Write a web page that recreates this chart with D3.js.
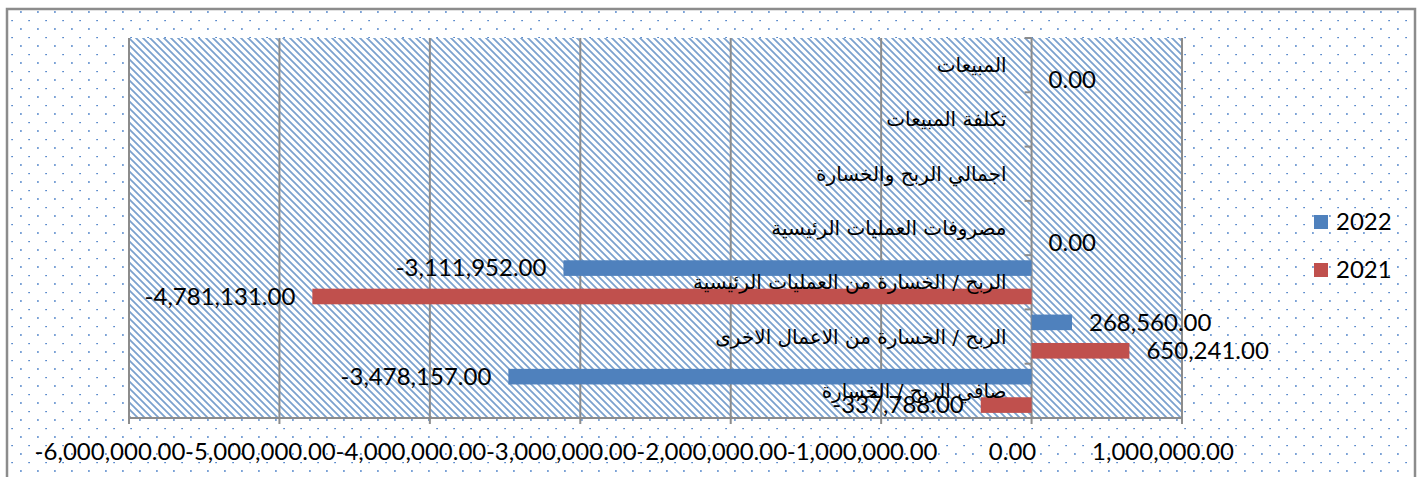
<!DOCTYPE html>
<html>
<head>
<meta charset="utf-8">
<script src="https://cdn.jsdelivr.net/npm/d3@7"></script>
<style>
  html, body { margin: 0; padding: 0; background: #fff; }
  svg { display: block; }
</style>
</head>
<body>
<svg id="chart" width="1423" height="477"></svg>
<script>
const categories = [
  "المبيعات",
  "تكلفة المبيعات",
  "اجمالي الربح والخسارة",
  "مصروفات العمليات الرئيسية",
  "الربح / الخسارة من العمليات الرئيسية",
  "الربح / الخسارة من الاعمال الاخرى",
  "صافي الربح / الخسارة"
];
const years = ["2022", "2021"];
const values2022 = [null, null, null, null, -3111952, 268560, -3478157];
const values2021 = [0, null, null, 0, -4781131, 650241, -337788];
const xDomain = [-6000000, 1000000];

const colors = { "2022": "#4F81BD", "2021": "#C0504D" };
const series = { "2022": values2022, "2021": values2021 };

const svg = d3.select("#chart");
const plot = { left: 129, right: 1182, top: 38, bottom: 418 };

const locale = d3.formatLocale({ decimal: ".", thousands: ",", grouping: [3], currency: ["", ""], minus: "-" });
const fmt = locale.format(",.2f");

const defs = svg.append("defs");
const dots = defs.append("pattern")
  .attr("id", "dots")
  .attr("patternUnits", "userSpaceOnUse")
  .attr("width", 17).attr("height", 17);
dots.append("rect").attr("width", 17).attr("height", 17).attr("fill", "#fff");
dots.append("rect").attr("x", 3).attr("y", 11.2).attr("width", 1.8).attr("height", 1.6).attr("fill", "#5b8bcc");
dots.append("rect").attr("x", 11.2).attr("y", 3).attr("width", 1.8).attr("height", 1.2).attr("fill", "#5b8bcc");

const hatch = defs.append("pattern")
  .attr("id", "hatch")
  .attr("patternUnits", "userSpaceOnUse")
  .attr("width", 7).attr("height", 7);
hatch.append("rect").attr("width", 7).attr("height", 7).attr("fill", "#fff");
hatch.append("path")
  .attr("d", "M0,0L7,7M-1,6L1,8M6,-1L8,1")
  .attr("stroke", "#4F81BD")
  .attr("stroke-opacity", 0.75)
  .attr("stroke-width", 1.8);

// chart area
svg.append("rect")
  .attr("x", 7).attr("y", 9)
  .attr("width", 1408).attr("height", 490)
  .attr("fill", "url(#dots)")
  .attr("stroke", "#8c8c8c")
  .attr("stroke-width", 2.5);

const x = d3.scaleLinear().domain(xDomain).range([plot.left, plot.right]);
const y = d3.scaleBand().domain(categories).range([plot.top, plot.bottom]);
const yInner = d3.scaleBand().domain(years).range([0, y.bandwidth()]).paddingInner(0.45).paddingOuter(0.18);

// plot area
svg.append("rect")
  .attr("x", plot.left).attr("y", plot.top)
  .attr("width", plot.right - plot.left).attr("height", plot.bottom - plot.top)
  .attr("fill", "url(#hatch)");

// gridlines
const ticks = x.ticks(7);
svg.append("g").selectAll("line")
  .data(ticks)
  .join("line")
  .attr("x1", d => x(d)).attr("x2", d => x(d))
  .attr("y1", plot.top).attr("y2", plot.bottom + 6)
  .attr("stroke", "#8c8c8c")
  .attr("stroke-width", 2);

// bottom axis line
svg.append("line")
  .attr("x1", plot.left).attr("x2", plot.right)
  .attr("y1", plot.bottom).attr("y2", plot.bottom)
  .attr("stroke", "#8c8c8c")
  .attr("stroke-width", 2);

// x tick labels (shifted left like the original)
svg.append("g").selectAll("text")
  .data(ticks)
  .join("text")
  .attr("x", d => x(d) - 19).attr("y", 452)
  .attr("dy", "0.35em")
  .attr("text-anchor", "middle")
  .style("font-family", "Lato, 'Liberation Sans', sans-serif")
  .style("font-size", "24px")
  .attr("fill", "#000")
  .text(d => fmt(d));

// category ticks on the zero axis
const bounds = categories.map(c => y(c)).concat([plot.bottom]);
svg.append("g").selectAll("line")
  .data(bounds)
  .join("line")
  .attr("x1", x(0) - 7).attr("x2", x(0))
  .attr("y1", d => d).attr("y2", d => d)
  .attr("stroke", "#8c8c8c")
  .attr("stroke-width", 2);

// bars
const rows = [];
categories.forEach((c, i) => {
  years.forEach(yr => {
    const v = series[yr][i];
    if (v !== null) rows.push({ cat: c, year: yr, value: v });
  });
});

svg.append("g").selectAll("rect")
  .data(rows)
  .join("rect")
  .attr("x", d => x(Math.min(0, d.value)))
  .attr("width", d => Math.abs(x(d.value) - x(0)))
  .attr("y", d => y(d.cat) + yInner(d.year))
  .attr("height", yInner.bandwidth())
  .attr("fill", d => colors[d.year]);

// category labels
svg.append("g").selectAll("text")
  .data(categories)
  .join("text")
  .attr("x", x(0) - 25)
  .attr("y", d => y(d) + y.bandwidth() / 2)
  .attr("dy", "0.35em")
  .attr("text-anchor", "end")
  .style("font-family", "'DejaVu Sans', sans-serif")
  .style("font-size", "20px")
  .attr("fill", "#000")
  .text(d => d);

// data labels
svg.append("g").selectAll("text")
  .data(rows)
  .join("text")
  .attr("x", d => d.value < 0 ? x(d.value) - 17 : x(d.value) + 17)
  .attr("y", d => y(d.cat) + yInner(d.year) + yInner.bandwidth() / 2)
  .attr("dy", "0.35em")
  .attr("text-anchor", d => d.value < 0 ? "end" : "start")
  .style("font-family", "Lato, 'Liberation Sans', sans-serif")
  .style("font-size", "24px")
  .attr("fill", "#000")
  .text(d => fmt(d.value));

// legend
const legend = svg.append("g").selectAll("g")
  .data(years)
  .join("g")
  .attr("transform", (d, i) => `translate(1314, ${215 + i * 48})`);
legend.append("rect")
  .attr("width", 14).attr("height", 14)
  .attr("fill", d => colors[d]);
legend.append("text")
  .attr("x", 22).attr("y", 7)
  .attr("dy", "0.35em")
  .style("font-family", "Lato, 'Liberation Sans', sans-serif")
  .style("font-size", "24px")
  .attr("fill", "#000")
  .text(d => d);
</script>
</body>
</html>
